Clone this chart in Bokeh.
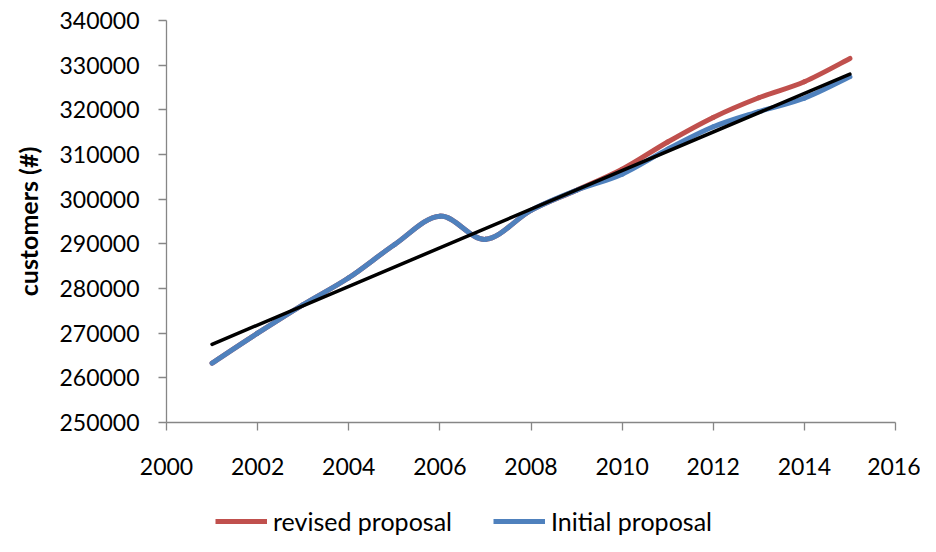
from bokeh.plotting import figure
from bokeh.layouts import column
from bokeh.models import FixedTicker, BasicTickFormatter, Legend, LegendItem, ColumnDataSource, Range1d
from bokeh.embed import file_html
from bokeh.resources import INLINE

# ---- data ----
years = [2001, 2002, 2003, 2004, 2005, 2006, 2007, 2008, 2009, 2010, 2011, 2012, 2013, 2014, 2015]
initial_proposal = [263300, 270000, 276400, 282400, 289800, 296200, 291000, 297500, 302000,
                    305600, 311200, 316200, 319600, 322600, 327400]
revised_proposal = [263300, 270000, 276400, 282400, 289800, 296200, 291000, 297500, 302000,
                    306700, 312800, 318300, 322700, 326300, 331500]
trend_years = [2001, 2015]
trend_values = [267500, 328000]
x_ticks = [2000, 2002, 2004, 2006, 2008, 2010, 2012, 2014, 2016]
y_ticks = [250000, 260000, 270000, 280000, 290000, 300000, 310000, 320000, 330000, 340000]

RED = "#C0504D"
BLUE = "#4F81BD"
FONT = "Lato"


def smooth_source(xs, ys):
    """Catmull-Rom style cubic Bezier segments (like a spreadsheet's smoothed line)."""
    n = len(xs)
    d = dict(x0=[], y0=[], x1=[], y1=[], cx0=[], cy0=[], cx1=[], cy1=[])
    for i in range(n - 1):
        p_prev = i - 1 if i > 0 else i
        p_next = i + 2 if i + 2 < n else i + 1
        d["x0"].append(xs[i]); d["y0"].append(ys[i])
        d["x1"].append(xs[i + 1]); d["y1"].append(ys[i + 1])
        d["cx0"].append(xs[i] + (xs[i + 1] - xs[p_prev]) / 6.0)
        d["cy0"].append(ys[i] + (ys[i + 1] - ys[p_prev]) / 6.0)
        d["cx1"].append(xs[i + 1] - (xs[p_next] - xs[i]) / 6.0)
        d["cy1"].append(ys[i + 1] - (ys[p_next] - ys[i]) / 6.0)
    return ColumnDataSource(d)


# ---- main chart ----
p = figure(width=920, height=490, output_backend="svg", toolbar_location=None,
           x_range=(2000, 2016), y_range=(250000, 340000),
           min_border_left=166, min_border_right=25, min_border_top=20, min_border_bottom=68)
p.outline_line_color = None
p.xgrid.visible = False
p.ygrid.visible = False
p.background_fill_color = "white"
p.border_fill_color = "white"

p.bezier(x0="x0", y0="y0", x1="x1", y1="y1", cx0="cx0", cy0="cy0", cx1="cx1", cy1="cy1",
         source=smooth_source(years, revised_proposal), line_color=RED, line_width=5,
         line_cap="round")
p.bezier(x0="x0", y0="y0", x1="x1", y1="y1", cx0="cx0", cy0="cy0", cx1="cx1", cy1="cy1",
         source=smooth_source(years, initial_proposal), line_color=BLUE, line_width=5,
         line_cap="round")
p.line(trend_years, trend_values, line_color="black", line_width=3.5, line_cap="round")

for ax in (p.xaxis[0], p.yaxis[0]):
    ax.axis_line_color = "#868686"
    ax.axis_line_width = 1.3
    ax.major_tick_line_color = "#868686"
    ax.major_tick_line_width = 1.3
    ax.minor_tick_line_color = None
    ax.major_tick_in = 0
    ax.major_tick_out = 8
    ax.major_label_text_font = FONT
    ax.major_label_text_font_size = "23px"
    ax.major_label_text_color = "black"

p.xaxis.ticker = FixedTicker(ticks=x_ticks)
p.yaxis.ticker = FixedTicker(ticks=y_ticks)
p.yaxis.formatter = BasicTickFormatter(use_scientific=False)
p.xaxis.formatter = BasicTickFormatter(use_scientific=False)
p.xaxis.major_label_standoff = 27
p.yaxis.major_label_standoff = 19

p.yaxis.axis_label = "customers (#)"
p.yaxis.axis_label_text_font = FONT
p.yaxis.axis_label_text_font_style = "bold"
p.yaxis.axis_label_text_font_size = "25px"
p.yaxis.axis_label_text_color = "black"
p.yaxis.axis_label_standoff = 13

# ---- legend strip below the chart ----
leg = figure(width=920, height=46, output_backend="svg", toolbar_location=None,
             x_range=Range1d(2000, 2016), y_range=Range1d(250000, 340000),
             min_border=0, x_axis_location=None, y_axis_location=None)
leg.outline_line_color = None
leg.xgrid.visible = False
leg.ygrid.visible = False
lr = leg.line(years, revised_proposal, line_color=RED, line_width=5, visible=False)
lb = leg.line(years, initial_proposal, line_color=BLUE, line_width=5, visible=False)
legend = Legend(items=[LegendItem(label="revised proposal", renderers=[lr]),
                       LegendItem(label="Initial proposal", renderers=[lb])],
                orientation="horizontal", location=(49, 0), click_policy="none",
                inactive_fill_alpha=0,
                label_text_font=FONT, label_text_font_size="25px", label_text_color="black",
                glyph_width=52, glyph_height=16, label_height=16, label_standoff=6,
                spacing=41, padding=0, margin=0, border_line_color=None,
                background_fill_alpha=0)
leg.add_layout(legend, "center")

layout = column(p, leg, spacing=0)
open("out.html", "w").write(file_html(layout, INLINE))
